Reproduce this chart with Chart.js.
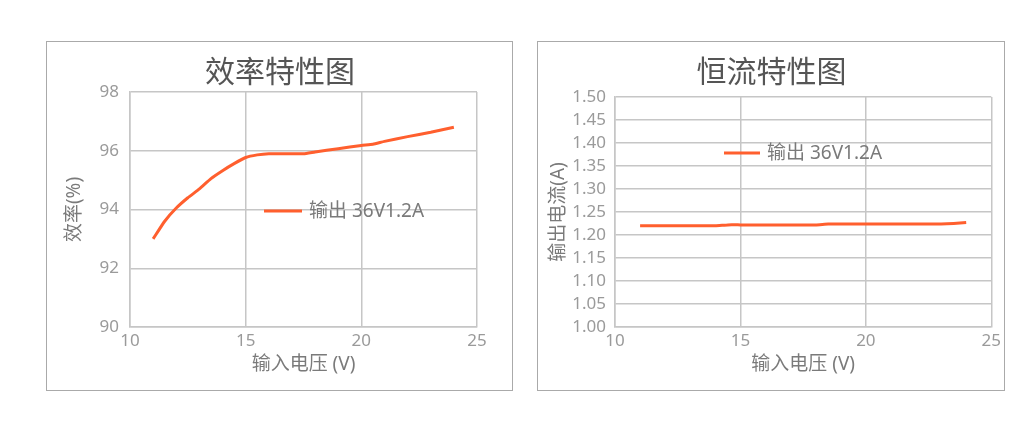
<!DOCTYPE html>
<html lang="zh-CN">
<head>
<meta charset="UTF-8">
<title>效率特性图 / 恒流特性图</title>
<style>
  body{margin:0;background:#fff;width:1036px;height:422px;position:relative;overflow:hidden;
       font-family:"Noto Sans","Noto Sans CJK SC",sans-serif}
  .panel{position:absolute;border:1px solid #aaa;box-sizing:border-box;background:#fff}
  .panel canvas{position:absolute;left:0;top:0}
  #p1{left:46px;top:41px;width:467px;height:350px}
  #p2{left:537px;top:41px;width:468px;height:350px}
</style>
</head>
<body>
<div class="panel" id="p1"><canvas id="effChart" width="466" height="348"></canvas></div>
<div class="panel" id="p2"><canvas id="curChart" width="467" height="348"></canvas></div>

<script src="https://cdn.jsdelivr.net/npm/chart.js@4.4.1"></script>
<script>
/* ---------- data ---------- */
const seriesName = '输出 36V1.2A';

// efficiency vs input voltage
const effVin = [11, 11.5, 12, 12.5, 13, 13.5, 14, 14.5, 15, 15.5, 16, 17, 17.5, 18, 19, 20, 20.5, 21, 22, 23, 24];
const effVal = [93.0, 93.6, 94.05, 94.4, 94.7, 95.05, 95.32, 95.56, 95.77, 95.86, 95.9, 95.9, 95.9, 95.96, 96.07, 96.18, 96.22, 96.32, 96.48, 96.63, 96.8];

// output current vs input voltage
const curVin = [11, 12, 13, 14, 14.5, 15, 16, 17, 18, 18.5, 19, 20, 21, 22, 23, 23.5, 24];
const curVal = [1.220, 1.220, 1.220, 1.220, 1.222, 1.222, 1.222, 1.222, 1.222, 1.224, 1.224, 1.224, 1.224, 1.224, 1.224, 1.225, 1.227];

const xTicks   = [10, 15, 20, 25];
const effTicks = [90, 92, 94, 96, 98];
const curTicks = [1.00, 1.05, 1.10, 1.15, 1.20, 1.25, 1.30, 1.35, 1.40, 1.45, 1.50];

const LINE  = '#ff5f2e';
const GRID  = '#c6c6c6';
const TICK  = '#9a9a9a';
const LABEL = '#7a7a7a';
const FONT  = '"Noto Sans","Noto Sans CJK SC",sans-serif';

/* ---------- legend drawn inside the plot ---------- */
const innerLegend = {
  id: 'innerLegend',
  afterDraw(chart, args, o){
    const {ctx, chartArea:{left, top}} = chart;
    ctx.save();
    ctx.strokeStyle = LINE;
    ctx.lineWidth = 3;
    ctx.beginPath();
    ctx.moveTo(left + o.x, top + o.y);
    ctx.lineTo(left + o.x + o.len, top + o.y);
    ctx.stroke();
    ctx.fillStyle = LABEL;
    ctx.font = '19px ' + FONT;
    ctx.textBaseline = 'middle';
    ctx.fillText(chart.data.datasets[0].label, left + o.x + o.len + 7, top + o.y + 1);
    ctx.restore();
  }
};

function makeChart(id, cfg){
  return new Chart(document.getElementById(id), {
    type: 'line',
    data: {
      datasets: [{
        label: seriesName,
        data: cfg.xs.map((x, i) => ({x: x, y: cfg.ys[i]})),
        borderColor: LINE,
        borderWidth: 3,
        pointRadius: 0,
        tension: 0.15,
        fill: false
      }]
    },
    options: {
      responsive: false,
      animation: false,
      plugins: {
        legend: {display: false},
        tooltip: {enabled: false},
        title: {
          display: true,
          text: cfg.title,
          color: '#555',
          font: {family: FONT, size: 30, weight: 'normal', lineHeight: 1.2},
          padding: {top: 13, bottom: cfg.titleBottom}
        },
        innerLegend: cfg.legend
      },
      scales: {
        x: {
          type: 'linear',
          min: 10, max: 25,
          afterBuildTicks: s => { s.ticks = xTicks.map(v => ({value: v})); },
          afterFit: s => { s.height = 63; },
          grid: {color: GRID, lineWidth: 1.5, drawTicks: false},
          border: {color: GRID, width: 1.5},
          ticks: {color: TICK, font: {family: FONT, size: 17}, padding: 4, maxRotation: 0},
          title: {display: true, text: '输入电压 (V)', color: LABEL,
                  font: {family: FONT, size: 19}, padding: {top: 0, bottom: 14}}
        },
        y: {
          min: cfg.ymin, max: cfg.ymax,
          afterBuildTicks: s => { s.ticks = cfg.yTicks.map(v => ({value: v})); },
          afterFit: s => { s.width = cfg.yWidth; },
          grid: {color: GRID, lineWidth: 1.5, drawTicks: false},
          border: {color: GRID, width: 1.5},
          ticks: {color: TICK, font: {family: FONT, size: 17}, padding: cfg.yPad,
                  autoSkip: false, callback: cfg.fmt},
          title: {display: true, text: cfg.yTitle, color: LABEL,
                  font: {family: FONT, size: 19}, padding: {top: cfg.yTitlePad, bottom: 0}}
        },
        // empty right-hand strip so the title stays centred on the whole panel
        yR: {
          position: 'right',
          min: 0, max: 1,
          afterFit: s => { s.width = cfg.padRight; },
          grid: {display: false},
          border: {display: false},
          ticks: {display: false}
        }
      }
    },
    plugins: [innerLegend]
  });
}

makeChart('effChart', {
  xs: effVin, ys: effVal, title: '效率特性图',
  ymin: 90, ymax: 98, yTicks: effTicks, fmt: v => v,
  yTitle: '效率(%)', yWidth: 83, yPad: 11, yTitlePad: 16,
  padRight: 36, titleBottom: 1,
  legend: {x: 134, y: 119, len: 38}
});

makeChart('curChart', {
  xs: curVin, ys: curVal, title: '恒流特性图',
  ymin: 1.0, ymax: 1.5, yTicks: curTicks, fmt: v => v.toFixed(2),
  yTitle: '输出电流(A)', yWidth: 77, yPad: 9, yTitlePad: 9,
  padRight: 12, titleBottom: 6,
  legend: {x: 109, y: 56, len: 36}
});
</script>
</body>
</html>
